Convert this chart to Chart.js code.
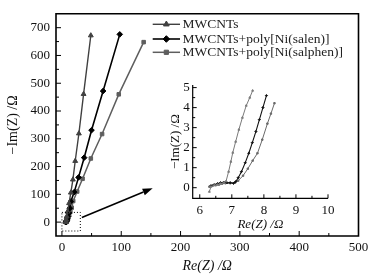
<!DOCTYPE html>
<html>
<head>
<meta charset="utf-8">
<script src="https://cdn.jsdelivr.net/npm/chart.js@4/dist/chart.umd.min.js"></script>
<style>
html, body { margin: 0; padding: 0; background: #fff; }
#wrap { position: relative; width: 380px; height: 279px; }
#main { position: absolute; left: 0; top: 0; }
#inset { position: absolute; left: 166px; top: 70px; }
</style>
</head>
<body>
<div id="wrap">
<canvas id="main" width="380" height="279"></canvas>
<canvas id="inset" width="175" height="164"></canvas>
</div>
<script>
const seriesNames = ['MWCNTs', 'MWCNTs+poly[Ni(salen)]', 'MWCNTs+poly[Ni(salphen)]'];

// main plot, Re(Z) / -Im(Z) in ohm
const mwcntRe = [6.3, 6.6, 6.8, 7.2, 8, 9.5, 12, 15, 18.5, 22.4, 28.6, 36.5, 48.7];
const mwcntIm = [0, 0.3, 3, 9, 20, 38, 68, 106, 153, 220, 319, 461, 672];
const salenRe = [6.3, 7.1, 7.6, 8.3, 9.2, 10.3, 11.6, 13.2, 15, 20.7, 28, 37.5, 49.9, 69.4, 97.5];
const salenIm = [0.2, 0.3, 2, 6, 12, 20, 32, 50, 74, 108, 161, 232, 331, 472, 676];
const salphenRe = [6.3, 7.1, 7.8, 8.6, 9.6, 10.8, 12.3, 14.2, 16.5, 19, 25.7, 34.8, 48.7, 67.7, 95.8, 137.8];
const salphenIm = [0.1, 0.3, 1.7, 5, 10, 17, 26, 37, 52, 76, 110, 156, 229, 317, 460, 648];

const xTicks = [0, 100, 200, 300, 400, 500];
const yTicks = [0, 100, 200, 300, 400, 500, 600, 700];

// inset (high frequency region)
const insMwcntRe = [6.3, 6.35, 6.45, 6.55, 6.65, 6.75, 6.82, 6.9, 6.97, 7.03, 7.12, 7.22, 7.33, 7.45, 7.56, 7.65];
const insMwcntIm = [-0.2, 0.05, 0.12, 0.15, 0.2, 0.25, 0.32, 0.8, 1.3, 1.75, 2.3, 2.9, 3.5, 4.1, 4.5, 4.85];
const insSalenRe = [6.35, 6.45, 6.55, 6.65, 6.75, 6.85, 6.95, 7.05, 7.12, 7.2, 7.3, 7.42, 7.53, 7.64, 7.75, 7.86, 7.97, 8.08];
const insSalenIm = [0.1, 0.15, 0.2, 0.25, 0.27, 0.25, 0.25, 0.22, 0.3, 0.5, 0.8, 1.25, 1.72, 2.25, 2.8, 3.4, 4.0, 4.6];
const insSalphenRe = [6.3, 6.4, 6.5, 6.6, 6.7, 6.8, 6.95, 7.1, 7.2, 7.35, 7.5, 7.65, 7.8, 7.95, 8.11, 8.22, 8.33];
const insSalphenIm = [0.05, 0.1, 0.12, 0.15, 0.2, 0.22, 0.22, 0.25, 0.35, 0.6, 0.95, 1.35, 1.72, 2.4, 3.2, 3.7, 4.22];

const insXTicks = [6, 7, 8, 9, 10];
const insYTicks = [0, 1, 2, 3, 4, 5];

// zoom marker and arrow, in main-plot data units
const zoomBoxX = [0, 31];
const zoomBoxY = [-32, 35];
const arrowFrom = [33.6, 16.5];
const arrowTo = [153, 122];

const serif = '"Liberation Serif", "Times New Roman", serif';
const pts = (xs, ys) => xs.map((v, i) => ({ x: v, y: ys[i] }));

const frameTicks = {
    id: 'frameTicks',
    afterDraw(chart, args, o) {
        const { ctx, chartArea: a, scales: { x, y } } = chart;
        ctx.save();
        ctx.strokeStyle = '#000';
        ctx.lineWidth = o.lineWidth;
        ctx.beginPath();
        if (o.box) {
            ctx.rect(a.left, a.top, a.right - a.left, a.bottom - a.top);
        } else {
            ctx.moveTo(a.left, a.top);
            ctx.lineTo(a.left, a.bottom);
            ctx.lineTo(a.right, a.bottom);
        }
        ctx.stroke();
        ctx.lineWidth = 1;
        ctx.beginPath();
        x.ticks.forEach((t, i) => {
            const px = x.getPixelForValue(t.value);
            ctx.moveTo(px, a.bottom);
            ctx.lineTo(px, a.bottom - o.major);
            if (i < x.ticks.length - 1) {
                const m = x.getPixelForValue((t.value + x.ticks[i + 1].value) / 2);
                ctx.moveTo(m, a.bottom);
                ctx.lineTo(m, a.bottom - o.minor);
            }
        });
        y.ticks.forEach((t, i) => {
            const py = y.getPixelForValue(t.value);
            ctx.moveTo(a.left, py);
            ctx.lineTo(a.left + o.major, py);
            if (i < y.ticks.length - 1) {
                const m = y.getPixelForValue((t.value + y.ticks[i + 1].value) / 2);
                ctx.moveTo(a.left, m);
                ctx.lineTo(a.left + o.minor, m);
            }
        });
        ctx.stroke();
        ctx.restore();
    }
};

const lineLegend = {
    id: 'lineLegend',
    afterDraw(chart, args, o) {
        if (!o.rows) return;
        const ctx = chart.ctx;
        ctx.save();
        chart.data.datasets.forEach((ds, i) => {
            const y = o.rows[i];
            ctx.strokeStyle = ds.borderColor;
            ctx.lineWidth = ds.borderWidth;
            ctx.beginPath();
            ctx.moveTo(o.x0, y);
            ctx.lineTo(o.x1, y);
            ctx.stroke();
            ctx.fillStyle = ds.pointBackgroundColor;
            ctx.lineWidth = 1;
            Chart.helpers.drawPoint(ctx, { pointStyle: ds.pointStyle, radius: ds.pointRadius + 0.5, borderWidth: 1, rotation: 0 }, (o.x0 + o.x1) / 2, y);
            ctx.fillStyle = '#222';
            ctx.font = o.font;
            ctx.textBaseline = 'middle';
            ctx.fillText(ds.label, o.textX, y + 0.5);
        });
        ctx.restore();
    }
};

const zoomArrow = {
    id: 'zoomArrow',
    afterDatasetsDraw(chart, args, o) {
        if (!o.on) return;
        const { ctx, scales: { x, y } } = chart;
        ctx.save();
        ctx.strokeStyle = '#000';
        ctx.lineWidth = 1;
        ctx.setLineDash([1, 2]);
        const bx0 = x.getPixelForValue(zoomBoxX[0]), bx1 = x.getPixelForValue(zoomBoxX[1]);
        const by0 = y.getPixelForValue(zoomBoxY[0]), by1 = y.getPixelForValue(zoomBoxY[1]);
        ctx.strokeRect(bx0, by1, bx1 - bx0, by0 - by1);
        ctx.setLineDash([]);
        const x0 = x.getPixelForValue(arrowFrom[0]), y0 = y.getPixelForValue(arrowFrom[1]);
        const x1 = x.getPixelForValue(arrowTo[0]), y1 = y.getPixelForValue(arrowTo[1]);
        const ang = Math.atan2(y1 - y0, x1 - x0);
        const hl = 10, hw = 3.5;
        const bxh = x1 - hl * Math.cos(ang), byh = y1 - hl * Math.sin(ang);
        ctx.lineWidth = 1.6;
        ctx.beginPath();
        ctx.moveTo(x0, y0);
        ctx.lineTo(bxh, byh);
        ctx.stroke();
        ctx.fillStyle = '#000';
        ctx.beginPath();
        ctx.moveTo(x1, y1);
        ctx.lineTo(bxh + hw * Math.sin(ang), byh - hw * Math.cos(ang));
        ctx.lineTo(bxh - hw * Math.sin(ang), byh + hw * Math.cos(ang));
        ctx.closePath();
        ctx.fill();
        ctx.restore();
    }
};

Chart.register(frameTicks, lineLegend, zoomArrow);

function series(label, data, color, style, radius, width) {
    return {
        label, data,
        borderColor: color,
        backgroundColor: color,
        pointBackgroundColor: color,
        pointBorderColor: color,
        pointStyle: style,
        pointRadius: radius,
        pointBorderWidth: 1,
        borderWidth: width,
        showLine: true,
        tension: 0
    };
}

new Chart(document.getElementById('main'), {
    type: 'scatter',
    data: {
        datasets: [
            series(seriesNames[0], pts(mwcntRe, mwcntIm), '#404040', 'triangle', 2.8, 1.4),
            series(seriesNames[1], pts(salenRe, salenIm), '#000', 'rectRot', 2.8, 1.6),
            series(seriesNames[2], pts(salphenRe, salphenIm), '#5e5e5e', 'rect', 2.5, 1.5)
        ]
    },
    options: {
        responsive: false,
        animation: false,
        layout: { padding: { left: 0, top: 10, right: 21.5, bottom: 0 } },
        plugins: {
            legend: { display: false },
            tooltip: { enabled: false },
            frameTicks: { box: true, lineWidth: 1.6, major: 5, minor: 3 },
            lineLegend: { rows: [24.3, 39, 52.3], x0: 152.7, x1: 180, textX: 182.5, font: '13.5px ' + serif },
            zoomArrow: { on: true }
        },
        scales: {
            x: {
                type: 'linear', min: -10, max: 500,
                afterBuildTicks: s => { s.ticks = xTicks.map(v => ({ value: v })); },
                afterFit: s => { s.height = 43; },
                grid: { display: false, drawTicks: false },
                border: { display: false },
                ticks: { color: '#111', padding: 4, maxRotation: 0, font: { family: serif, size: 13 } },
                title: { display: true, text: 'Re(Z) /Ω', color: '#111', padding: 4, font: { family: serif, size: 14, style: 'italic' } }
            },
            y: {
                type: 'linear', min: -50, max: 750,
                afterBuildTicks: s => { s.ticks = yTicks.map(v => ({ value: v })); },
                afterFit: s => { s.width = 56; },
                grid: { display: false, drawTicks: false },
                border: { display: false },
                ticks: { color: '#111', padding: 6, font: { family: serif, size: 13 } },
                title: { display: true, text: '−Im(Z) /Ω', color: '#111', padding: 5, font: { family: serif, size: 14 } }
            }
        }
    }
});

new Chart(document.getElementById('inset'), {
    type: 'scatter',
    data: {
        datasets: [
            series(seriesNames[0], pts(insMwcntRe, insMwcntIm), '#7a7a7a', 'triangle', 1.1, 1),
            series(seriesNames[1], pts(insSalenRe, insSalenIm), '#111', 'rectRot', 1.1, 1.1),
            series(seriesNames[2], pts(insSalphenRe, insSalphenIm), '#6a6a6a', 'rect', 1, 1)
        ]
    },
    options: {
        responsive: false,
        animation: false,
        layout: { padding: { left: 0, top: 15, right: 13, bottom: 0 } },
        plugins: {
            legend: { display: false },
            tooltip: { enabled: false },
            frameTicks: { box: false, lineWidth: 1.2, major: 4, minor: 2.5 },
            lineLegend: { rows: null },
            zoomArrow: { on: false }
        },
        scales: {
            x: {
                type: 'linear', min: 5.78, max: 10,
                afterBuildTicks: s => { s.ticks = insXTicks.map(v => ({ value: v })); },
                afterFit: s => { s.height = 35.7; },
                grid: { display: false, drawTicks: false },
                border: { display: false },
                ticks: { color: '#111', padding: 4, maxRotation: 0, font: { family: serif, size: 13 } },
                title: { display: true, text: 'Re(Z) /Ω', color: '#111', padding: 2, font: { family: serif, size: 13, style: 'italic' } }
            },
            y: {
                type: 'linear', min: -0.53, max: 5.13,
                afterBuildTicks: s => { s.ticks = insYTicks.map(v => ({ value: v })); },
                afterFit: s => { s.width = 26.7; },
                grid: { display: false, drawTicks: false },
                border: { display: false },
                ticks: { color: '#111', padding: 3, font: { family: serif, size: 13 } },
                title: { display: true, text: '−Im(Z) /Ω', color: '#111', padding: 2, font: { family: serif, size: 13 } }
            }
        }
    }
});
</script>
</body>
</html>
